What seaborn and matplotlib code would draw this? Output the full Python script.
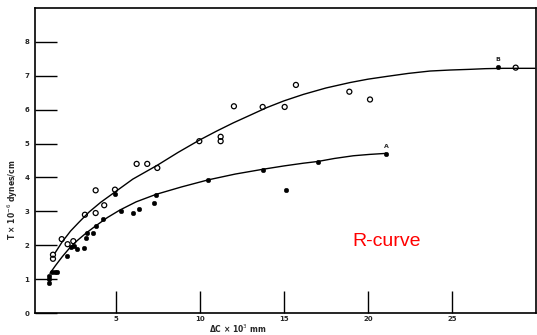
import matplotlib
matplotlib.use("Agg")
import matplotlib.pyplot as plt
import seaborn as sns
import pandas as pd

# Open circles (upper series)
open_x = [1.25, 1.25, 1.77, 2.12, 2.46, 3.15, 3.79, 3.79, 4.30, 4.94, 6.23, 6.86, 7.46,
          9.96, 11.23, 11.23, 12.02, 13.73, 15.04, 15.71, 18.89, 20.12, 28.79]
open_y = [1.72, 1.60, 2.18, 2.03, 2.12, 2.90, 3.62, 2.95, 3.18, 3.64, 4.40, 4.40, 4.28,
          5.07, 5.20, 5.07, 6.10, 6.08, 6.08, 6.73, 6.53, 6.30, 7.24]

# Filled circles (lower series)
fill_x = [1.01, 1.01, 1.01, 1.21, 1.37, 1.51, 2.06, 2.30, 2.50, 2.66, 3.10, 3.19, 3.29,
          3.65, 3.79, 4.25, 4.94, 5.28, 5.99, 6.35, 7.26, 7.38, 10.50, 13.73, 15.12,
          17.0, 21.07, 27.74]
fill_y = [1.09, 0.99, 0.89, 1.22, 1.22, 1.22, 1.69, 1.94, 1.99, 1.88, 1.93, 2.22, 2.36,
          2.36, 2.57, 2.78, 3.52, 3.02, 2.94, 3.07, 3.25, 3.49, 3.93, 4.23, 3.62,
          4.46, 4.70, 7.26]

# Hand-drawn curves
upper_cx = [1.37, 1.8, 2.3, 2.8, 3.4, 4.1, 4.94, 6.0, 7.46, 8.7, 9.96, 11.0, 11.98, 13.0,
            13.97, 15.0, 16.15, 17.5, 18.93, 20.0, 21.1, 22.4, 23.69, 24.9, 26.07, 27.0,
            28.05, 29.94]
upper_cy = [1.77, 2.10, 2.42, 2.68, 2.98, 3.27, 3.57, 3.95, 4.36, 4.74, 5.10, 5.37, 5.61,
            5.84, 6.06, 6.26, 6.45, 6.64, 6.80, 6.90, 6.98, 7.07, 7.14, 7.17, 7.19, 7.21,
            7.22, 7.22]
lower_cx = [1.07, 1.4, 1.8, 2.26, 2.7, 3.2, 3.79, 4.5, 5.24, 6.2, 7.38, 8.9, 10.5, 12.1,
            13.73, 15.0, 16.15, 17.0, 18.0, 19.13, 20.1, 21.07]
lower_cy = [1.17, 1.40, 1.66, 1.93, 2.14, 2.35, 2.57, 2.82, 3.04, 3.28, 3.50, 3.72, 3.93,
            4.10, 4.24, 4.34, 4.42, 4.47, 4.56, 4.64, 4.68, 4.71]

x_ticks = [5, 10, 15, 20, 25]
y_ticks = [0, 1, 2, 3, 4, 5, 6, 7, 8]

sns.set_style("white")
fig = plt.figure(figsize=(5.37, 3.35), dpi=100)
ax = fig.add_axes([35/537, 22/335, 501/537, 305/335])

up = pd.DataFrame({"x": upper_cx, "y": upper_cy})
lo = pd.DataFrame({"x": lower_cx, "y": lower_cy})
sns.lineplot(data=up, x="x", y="y", sort=False, estimator=None, color="black", lw=1.0, ax=ax)
sns.lineplot(data=lo, x="x", y="y", sort=False, estimator=None, color="black", lw=1.0, ax=ax)

op = pd.DataFrame({"x": open_x, "y": open_y})
fp = pd.DataFrame({"x": fill_x, "y": fill_y})
sns.scatterplot(data=op, x="x", y="y", marker="o", s=13, facecolors="none",
                edgecolor="black", linewidth=0.9, ax=ax, zorder=3)
sns.scatterplot(data=fp, x="x", y="y", marker="o", s=11, color="black",
                edgecolor="black", linewidth=0.3, ax=ax, zorder=3)

ax.text(21.07, 4.92, "A", fontsize=4.5, fontweight="bold", ha="center", va="center")
ax.text(27.74, 7.48, "B", fontsize=4.5, fontweight="bold", ha="center", va="center")

ax.text(21.1, 2.1, "R-curve", color="red", fontsize=14, family="Liberation Sans",
        ha="center", va="center")

ax.set_xlim(0.18, 30.0)
ax.set_ylim(0, 9.0)
ax.set_xticks(x_ticks)
ax.set_yticks(y_ticks)
ax.set_xticklabels([str(t) for t in x_ticks], fontsize=5, fontweight="bold")
ax.set_yticklabels([str(t) for t in y_ticks], fontsize=5, fontweight="bold")
ax.tick_params(axis="y", which="major", left=True, direction="in", length=16, width=1.0,
               pad=4, color="black")
ax.tick_params(axis="x", which="major", bottom=True, direction="in", length=16, width=1.0,
               pad=2, color="black")

for s in ax.spines.values():
    s.set_visible(True)
    s.set_color("black")
    s.set_linewidth(1.2)

ax.set_xlabel("ΔC × 10$^{3}$ mm", fontsize=5.5, fontweight="bold")
ax.set_ylabel("T × 10$^{-6}$ dynes/cm", fontsize=5.5, fontweight="bold")
ax.xaxis.set_label_coords(0.405, -0.03)
ax.yaxis.set_label_coords(-0.03, 0.37)

fig.savefig("out.png", dpi=100)
